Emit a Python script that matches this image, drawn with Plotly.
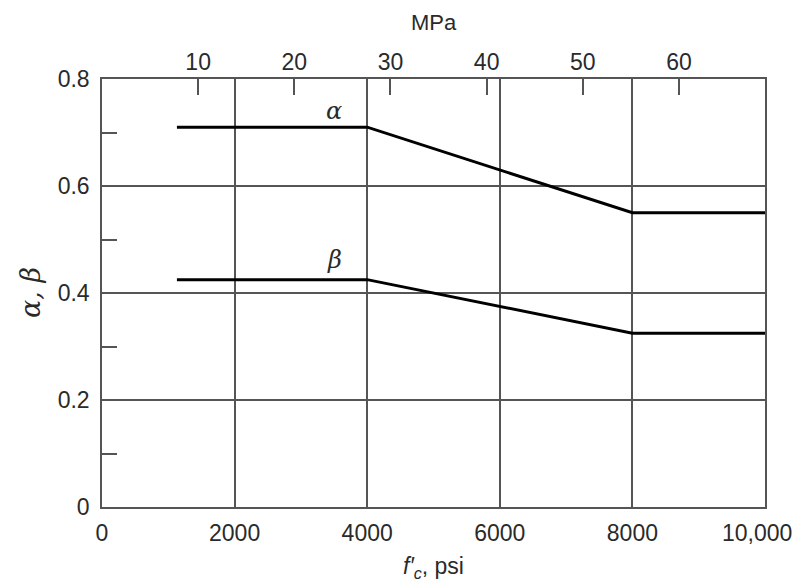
import plotly.graph_objects as go

# Data (psi on x, factor on y)
fc_psi = [1130, 4000, 8000, 10000]
alpha = [0.71, 0.71, 0.55, 0.55]
beta = [0.425, 0.425, 0.325, 0.325]

x_ticks = [0, 2000, 4000, 6000, 8000, 10000]
x_ticktext = ["0", "2000", "4000", "6000", "8000", "10,000"]
y_ticks = [0, 0.2, 0.4, 0.6, 0.8]
y_ticktext = ["0", "0.2", "0.4", "0.6", "0.8"]
y_minor = [0.1, 0.3, 0.5, 0.7]
mpa_ticks = [10, 20, 30, 40, 50, 60]
PSI_PER_MPA = 145.038

FONT = "Liberation Sans, Arial, sans-serif"
GRID = "#555555"
TXT = "#2a2a2a"

fig = go.Figure()
fig.add_trace(go.Scatter(x=fc_psi, y=alpha, mode="lines",
                         line=dict(color="black", width=3), showlegend=False, hoverinfo="skip"))
fig.add_trace(go.Scatter(x=fc_psi, y=beta, mode="lines",
                         line=dict(color="black", width=3), showlegend=False, hoverinfo="skip"))
# invisible trace to activate top MPa axis
fig.add_trace(go.Scatter(x=[0, 10000 / PSI_PER_MPA], y=[0, 0], xaxis="x2", mode="lines",
                         line=dict(width=0, color="rgba(0,0,0,0)"), showlegend=False, hoverinfo="skip"))

shown_x_text = x_ticktext[:-1] + [""]

fig.update_layout(
    width=800, height=582,
    margin=dict(l=94, r=43, t=71, b=83),
    paper_bgcolor="white", plot_bgcolor="white",
    font=dict(family=FONT, size=23, color=TXT),
    xaxis=dict(range=[0, 10000], tickvals=x_ticks, ticktext=shown_x_text,
               showgrid=True, gridcolor=GRID, gridwidth=1.5, automargin=False,
               showline=True, linecolor=GRID, linewidth=1.5, mirror=True,
               ticks="", zeroline=False, ticklabelstandoff=5),
    xaxis2=dict(range=[0, 10000 / PSI_PER_MPA], overlaying="x", side="top", anchor="y",
                tickvals=mpa_ticks, ticks="inside", ticklen=16, tickwidth=1.5, tickcolor=GRID,
                showgrid=False, zeroline=False, showline=False, ticklabelstandoff=3,
                automargin=False),
    yaxis=dict(range=[0, 0.8], tickvals=y_ticks, ticktext=y_ticktext,
               showgrid=True, gridcolor=GRID, gridwidth=1.5, automargin=False,
               showline=True, linecolor=GRID, linewidth=1.5, mirror=True,
               ticks="", zeroline=False, ticklabelstandoff=6,
               minor=dict(tickvals=y_minor, ticks="inside", ticklen=15, tickwidth=1.5,
                          tickcolor=GRID, showgrid=False)),
    annotations=[
        dict(x=1.0, y=0, xref="paper", yref="paper", text=x_ticktext[-1], showarrow=False,
             xanchor="center", yanchor="top", xshift=-8, yshift=-11, font=dict(size=23, color=TXT)),
        dict(x=0.5, y=0, xref="paper", yref="paper", text="<i>f′<sub>c</sub></i>, psi",
             showarrow=False, yanchor="middle", yshift=-60, font=dict(size=23, color=TXT)),
        dict(x=0.5, y=1, xref="paper", yref="paper", text="MPa",
             showarrow=False, yanchor="middle", yshift=57, font=dict(size=22, color=TXT)),
        dict(x=0, y=0.5, xref="paper", yref="paper", text="<i>α, β</i>", textangle=-90,
             showarrow=False, xanchor="center", xshift=-72,
             font=dict(size=27, color=TXT, family="DejaVu Serif, serif")),
        dict(x=3500, y=0.74, xref="x", yref="y", text="<i>α</i>", showarrow=False,
             font=dict(size=24, color=TXT, family="DejaVu Serif, serif")),
        dict(x=3500, y=0.462, xref="x", yref="y", text="<i>β</i>", showarrow=False,
             font=dict(size=24, color=TXT, family="DejaVu Serif, serif")),
    ],
)

fig.write_html("out.html")
